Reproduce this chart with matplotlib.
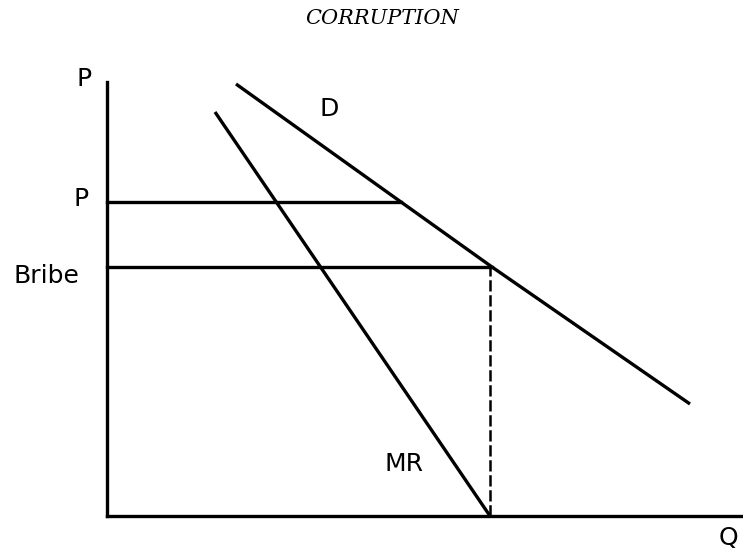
import matplotlib
matplotlib.use("Agg")
import matplotlib.pyplot as plt

# Data (axis units with origin at the axes corner)
d_q = [129, 294, 385, 583]
d_p = [432, 314, 249, 112]
mr_q = [108, 383]
mr_p = [404, 0]
p_level = 314
p_end = 294
bribe_level = 249
bribe_end = 385
q_star = 383

W, H = 743, 554
fig = plt.figure(figsize=(W / 100, H / 100), dpi=100)
ax_left, ax_bottom = 107, 516
ax_right, ax_top = 743, 82
ax = fig.add_axes([ax_left / W, (H - ax_bottom) / H,
                   (ax_right - ax_left) / W, (ax_bottom - ax_top) / H])
ax.set_xlim(0, ax_right - ax_left)
ax.set_ylim(0, ax_bottom - ax_top)
for s in ["top", "right"]:
    ax.spines[s].set_visible(False)
for s in ["left", "bottom"]:
    ax.spines[s].set_linewidth(2.4)
ax.set_xticks([])
ax.set_yticks([])

lw = 2.4
ax.plot(d_q, d_p, color="black", lw=lw, solid_capstyle="butt",
        solid_joinstyle="round", clip_on=False)
ax.plot(mr_q, mr_p, color="black", lw=lw, solid_capstyle="butt", clip_on=False)
ax.plot([0, p_end], [p_level, p_level], color="black", lw=lw, clip_on=False)
ax.plot([0, bribe_end], [bribe_level, bribe_level], color="black", lw=lw, clip_on=False)
ax.plot([q_star, q_star], [0, bribe_level], color="black", lw=1.8,
        linestyle=(0, (4.5, 1.5)), clip_on=False)

fs = 18
kw = dict(fontsize=fs, color="black", clip_on=False, family="DejaVu Sans")
ax.text(-23, 437, "P", ha="center", va="center", **kw)
ax.text(222, 407, "D", ha="center", va="center", **kw)
ax.text(-26, 317, "P", ha="center", va="center", **kw)
ax.text(-61, 240, "Bribe", ha="center", va="center", **kw)
ax.text(297, 52, "MR", ha="center", va="center", **kw)
ax.text(612, -22, "Q", ha="left", va="center", **kw)

fig.text(382 / W, 1 - 18 / H, "CORRUPTION", ha="center", va="center",
         fontsize=15, style="italic", family="DejaVu Serif")

fig.savefig("out.png", dpi=100)
